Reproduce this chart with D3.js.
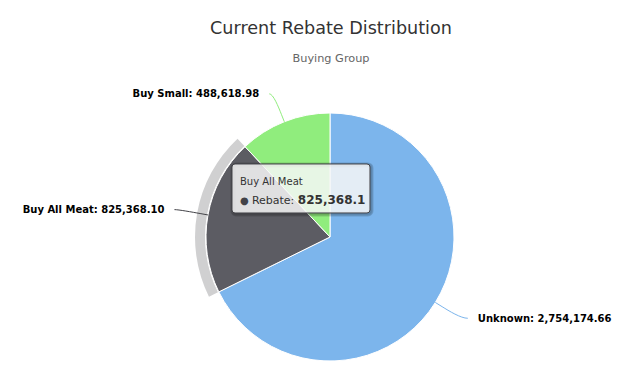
<!DOCTYPE html>
<html>
<head>
<meta charset="utf-8">
<script src="https://cdn.jsdelivr.net/npm/d3@7"></script>
<style>
  body { margin: 0; background: #fff; }
  svg { display: block; font-family: "DejaVu Sans", Verdana, sans-serif; }
</style>
</head>
<body>
<svg width="632" height="377"></svg>
<script>
var categories = ["Unknown", "Buy All Meat", "Buy Small"];
var rebates = [2754174.66, 825368.10, 488618.98];
var labelText = ["2,754,174.66", "825,368.10", "488,618.98"];
var colors = ["#7cb5ec", "#434348", "#90ed7d"];
var hovered = 1;

var width = 632, height = 377;
var cx = 330, cy = 237, radius = 124;
var labelDistance = 30;

var svg = d3.select("svg");

svg.append("text")
    .attr("x", 331).attr("y", 34)
    .attr("text-anchor", "middle")
    .attr("fill", "#333333")
    .style("font-size", "17.6px")
    .text("Current Rebate Distribution");

svg.append("text")
    .attr("x", 331).attr("y", 62)
    .attr("text-anchor", "middle")
    .attr("fill", "#666666")
    .style("font-size", "11.3px")
    .text("Buying Group");

var data = categories.map(function(c, i) {
    return { name: c, value: rebates[i], label: labelText[i], color: colors[i] };
});

var pie = d3.pie().sort(null).value(function(d) { return d.value; });
var arcs = pie(data);

var arc = d3.arc().innerRadius(0).outerRadius(radius);
var halo = d3.arc().innerRadius(radius + 1).outerRadius(radius + 11);

var g = svg.append("g").attr("transform", "translate(" + cx + "," + cy + ")");

// halo behind the hovered slice
g.append("path")
    .attr("d", halo(arcs[hovered]))
    .attr("fill", arcs[hovered].data.color)
    .attr("fill-opacity", 0.25);

g.selectAll("path.slice")
    .data(arcs)
    .enter()
    .append("path")
    .attr("class", "slice")
    .attr("d", arc)
    .attr("fill", function(d, i) {
        return i == hovered ? d3.color(d.data.color).brighter(0.9) : d.data.color;
    })
    .attr("stroke", "#ffffff")
    .attr("stroke-width", 1)
    .attr("stroke-linejoin", "round");

// data labels with soft connectors
function polar(angle, r) {
    return [Math.sin(angle) * r, -Math.cos(angle) * r];
}

arcs.forEach(function(d) {
    var mid = (d.startAngle + d.endAngle) / 2;
    var right = Math.sin(mid) > 0;
    var anchor = polar(mid, radius + labelDistance);
    var edge = polar(mid, radius);
    var brk = polar(mid, radius + 8);
    var ctrl = polar(mid, radius + 16);
    var endX = anchor[0] + (right ? 12 : -9);
    var startX = endX + (right ? -5 : 5);

    g.append("path")
        .attr("d", "M" + startX + "," + anchor[1] +
            "C" + anchor[0] + "," + anchor[1] + " " + ctrl[0] + "," + ctrl[1] + " " + brk[0] + "," + brk[1] +
            "L" + edge[0] + "," + edge[1])
        .attr("fill", "none")
        .attr("stroke", d.data.color)
        .attr("stroke-width", 1);

    g.append("text")
        .attr("x", right ? endX + 5 : endX - 5)
        .attr("y", anchor[1])
        .attr("dy", "0.35em")
        .attr("text-anchor", right ? "start" : "end")
        .attr("fill", "#000000")
        .attr("stroke", "#ffffff")
        .attr("stroke-width", 2)
        .attr("paint-order", "stroke")
        .style("font-size", "10px")
        .style("font-weight", "bold")
        .text(d.data.name + ": " + d.data.label);
});

// tooltip for the hovered slice
var hv = arcs[hovered];
var tipAnchor = polar((hv.startAngle + hv.endAngle) / 2, radius / 2);
var tipW = 138, tipH = 49;
var tipX = tipAnchor[0] - 37, tipY = tipAnchor[1] - 13 - tipH;

var tip = g.append("g").attr("transform", "translate(" + tipX + "," + tipY + ")");

[3, 2, 1].forEach(function(s) {
    tip.append("rect")
        .attr("x", 1).attr("y", 1)
        .attr("width", tipW).attr("height", tipH)
        .attr("rx", 3)
        .attr("fill", "none")
        .attr("stroke", "#000000")
        .attr("stroke-opacity", 0.05 * s)
        .attr("stroke-width", s * 2 - 1);
});

tip.append("rect")
    .attr("width", tipW).attr("height", tipH)
    .attr("rx", 3)
    .attr("fill", "rgba(247,247,247,0.85)")
    .attr("stroke", hv.data.color)
    .attr("stroke-width", 1);

tip.append("text")
    .attr("x", 8).attr("y", 21)
    .attr("fill", "#333333")
    .style("font-size", "10px")
    .text(hv.data.name);

var line2 = tip.append("text")
    .attr("x", 8).attr("y", 40)
    .attr("fill", "#333333")
    .style("font-size", "11px");
line2.append("tspan").attr("fill", hv.data.color).style("font-size", "10px").text("\u25CF ");
line2.append("tspan").text("Rebate: ");
line2.append("tspan").style("font-weight", "bold").style("font-size", "12px").text(d3.format(",")(hv.data.value));
</script>
</body>
</html>
